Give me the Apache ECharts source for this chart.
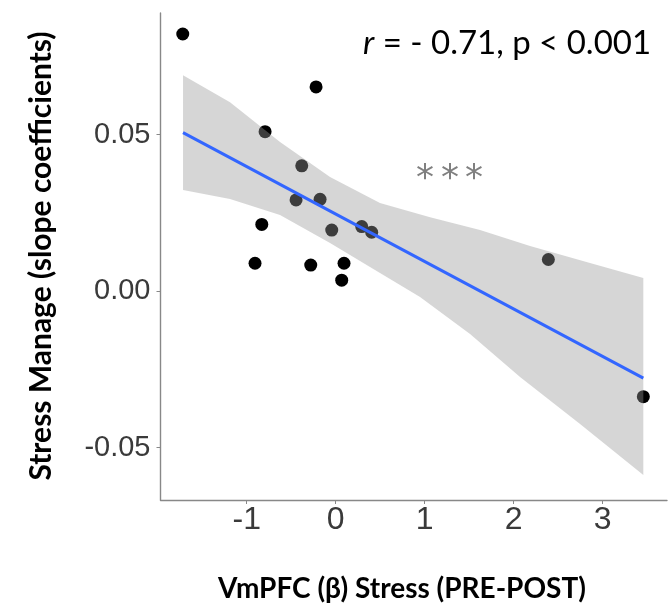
<!DOCTYPE html>
<html>
<head>
<meta charset="utf-8">
<script src="https://cdn.jsdelivr.net/npm/echarts@6/dist/echarts.min.js"></script>
<style>
  html, body { margin: 0; padding: 0; background: #fff; }
  #chart { width: 672px; height: 605px; }
</style>
</head>
<body>
<div id="chart"></div>
<script>
// observed points: VmPFC beta (x) vs stress manage slope (y)
var pointX = [-1.719, -0.221, -0.794, -0.382, -0.446, -0.176, -0.831, -0.045,
              -0.907, -0.281, 0.292, 0.404, 0.093, 0.067, 2.389, 3.456];
var pointY = [0.0821, 0.0652, 0.0509, 0.0400, 0.0291, 0.0293, 0.0213, 0.0195,
              0.0089, 0.0083, 0.0206, 0.0188, 0.0089, 0.0035, 0.0101, -0.0337];

// fitted line endpoints
var fitX = [-1.716, 3.456];
var fitY = [0.0506, -0.0278];

// confidence band edges
var upperX = [-1.716, -1.188, -0.626, -0.064, 0.497, 1.060, 1.621, 2.183, 2.857, 3.456];
var upperY = [0.0689, 0.0603, 0.0476, 0.0364, 0.0281, 0.0236, 0.0195, 0.0144, 0.0090, 0.0042];
var lowerX = [-1.716, -1.188, -0.626, -0.064, 0.385, 0.947, 1.509, 2.071, 2.745, 3.456];
var lowerY = [0.0323, 0.0294, 0.0243, 0.0154, 0.0077, -0.0019, -0.0137, -0.0274, -0.0424, -0.0587];

var xTicks = [-1, 0, 1, 2, 3];
var yTicks = [-0.05, 0, 0.05];

var chart = echarts.init(document.getElementById('chart'));

function zip(a, b) {
  return a.map(function (v, i) { return [v, b[i]]; });
}

var bandPts = zip(upperX, upperY).concat(zip(lowerX, lowerY).reverse());

// significance stars, drawn one by one to get the wide spacing
var stars = [425, 450, 474].map(function (x) {
  return {
    type: 'text', x: x, y: 180,
    style: {
      text: '*', font: '36px "DejaVu Sans", sans-serif', fill: '#808080',
      align: 'center', verticalAlign: 'middle'
    }
  };
});

var option = {
  animation: false,
  grid: { left: 160.5, right: 5, top: 13, bottom: 105 },
  xAxis: {
    type: 'value',
    min: -1.969,
    max: 3.722,
    splitLine: { show: false },
    axisLine: { onZero: false, lineStyle: { color: '#888', width: 1.4 } },
    axisTick: { customValues: xTicks, length: 4, lineStyle: { color: '#888' } },
    axisLabel: {
      customValues: xTicks,
      margin: 4,
      color: '#3a3a3a',
      fontFamily: 'Liberation Sans, Arial, sans-serif',
      fontSize: 32
    }
  },
  yAxis: {
    type: 'value',
    min: -0.0667,
    max: 0.0888,
    splitLine: { show: false },
    axisLine: { onZero: false, lineStyle: { color: '#888', width: 1.4 } },
    axisTick: { customValues: yTicks, length: 4, lineStyle: { color: '#888' } },
    axisLabel: {
      customValues: yTicks,
      margin: 10,
      color: '#3a3a3a',
      fontFamily: 'Liberation Sans, Arial, sans-serif',
      fontSize: 29,
      formatter: function (v) { return v.toFixed(2); }
    }
  },
  graphic: [
    {
      type: 'text', x: 402, y: 589,
      style: {
        text: 'VmPFC (\u03b2) Stress (PRE-POST)',
        font: 'bold 28px Lato, sans-serif', fill: '#000',
        align: 'center', verticalAlign: 'middle'
      }
    },
    {
      type: 'text', x: 41, y: 256, rotation: Math.PI / 2,
      style: {
        text: 'Stress Manage (slope coefficients)',
        font: 'bold 30px Lato, sans-serif', fill: '#000',
        align: 'center', verticalAlign: 'middle'
      }
    },
    {
      type: 'text', x: 363, y: 43,
      style: {
        text: '{i|r} = - 0.71, p < 0.001',
        font: '33px Lato, sans-serif', fill: '#000',
        verticalAlign: 'middle',
        rich: { i: { fontStyle: 'italic', fontFamily: 'Lato', fontSize: 33 } }
      }
    }
  ].concat(stars),
  series: [
    {
      type: 'scatter',
      z: 1,
      symbolSize: 13,
      itemStyle: { color: '#000', opacity: 1 },
      data: zip(pointX, pointY)
    },
    {
      type: 'custom',
      z: 2,
      data: [0],
      renderItem: function (params, api) {
        return {
          type: 'polygon',
          shape: { points: bandPts.map(function (p) { return api.coord(p); }) },
          style: { fill: 'rgba(153,153,153,0.4)' }
        };
      }
    },
    {
      type: 'line',
      z: 3,
      symbol: 'none',
      lineStyle: { color: '#3366FF', width: 3 },
      data: zip(fitX, fitY)
    }
  ]
};

chart.setOption(option);
</script>
</body>
</html>
